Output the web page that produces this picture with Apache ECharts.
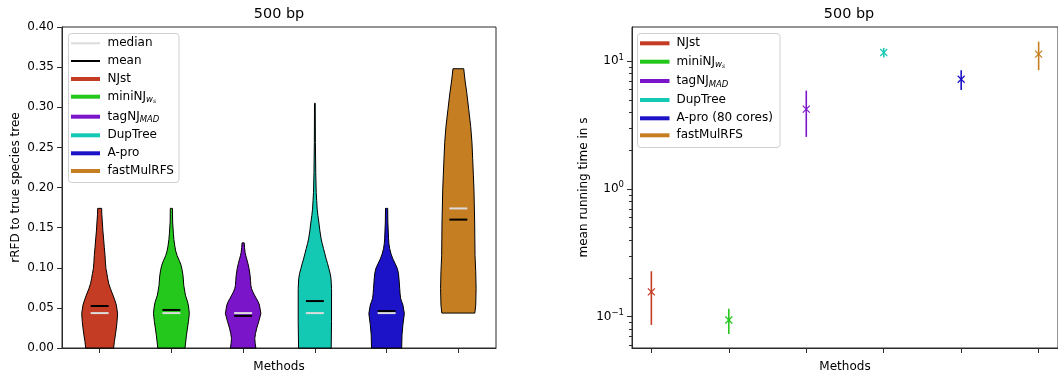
<!DOCTYPE html>
<html>
<head>
<meta charset="utf-8">
<script src="https://cdn.jsdelivr.net/npm/echarts@6/dist/echarts.min.js"></script>
<style>
  html, body { margin: 0; padding: 0; background: #fff; }
  #chart { width: 1058px; height: 378px; }
</style>
</head>
<body>
<div id="chart"></div>
<script>
// ---- data -------------------------------------------------------------
const methods = ['NJst', 'miniNJ_ws', 'tagNJ_MAD', 'DupTree', 'A-pro', 'fastMulRFS'];
const methodColors = ['#c43c23', '#24c71c', '#7a15c9', '#14c9b3', '#1c12c7', '#c67e22'];

// violin positions on the accuracy panel
const violinPositions = [1, 2, 3, 4, 5, 6];
const rrfdMean   = [0.0523, 0.0474, 0.0400, 0.0585, 0.0460, 0.1600];
const rrfdMedian = [0.0435, 0.0435, 0.0435, 0.0435, 0.0435, 0.1739];

// kernel density outlines: [rRFD value, relative half-width]
const njstDensity = [[0, 0.78], [0.008, 0.82], [0.0165, 0.88], [0.025, 0.93], [0.033, 0.97], [0.043, 1.0],
  [0.0535, 0.93], [0.06, 0.84], [0.066, 0.74], [0.074, 0.6], [0.08, 0.51], [0.0865, 0.45], [0.093, 0.4],
  [0.099, 0.35], [0.107, 0.32], [0.115, 0.3], [0.125, 0.26], [0.136, 0.22], [0.146, 0.18], [0.157, 0.15],
  [0.166, 0.12], [0.174, 0.11]];
const miniNJDensity = [[0, 0.76], [0.016, 0.84], [0.033, 0.95], [0.043, 1.0], [0.051, 0.96], [0.057, 0.91],
  [0.066, 0.78], [0.078, 0.69], [0.09, 0.65], [0.097, 0.6], [0.103, 0.54], [0.109, 0.44], [0.115, 0.32],
  [0.121, 0.24], [0.127, 0.19], [0.135, 0.14], [0.143, 0.11], [0.157, 0.07], [0.174, 0.06]];
const tagNJDensity = [[0, 0.71], [0.006, 0.67], [0.012, 0.65], [0.018, 0.69], [0.0247, 0.76], [0.033, 0.87],
  [0.043, 0.99], [0.0535, 0.91], [0.058, 0.83], [0.062, 0.73], [0.066, 0.63], [0.070, 0.54], [0.074, 0.47],
  [0.078, 0.43], [0.084, 0.41], [0.090, 0.39], [0.099, 0.33], [0.105, 0.27], [0.111, 0.2], [0.115, 0.15],
  [0.119, 0.11], [0.125, 0.08], [0.131, 0.06]];
const dupTreeDensity = [[0, 0.91], [0.033, 0.93], [0.074, 0.93], [0.0865, 0.9], [0.093, 0.85], [0.099, 0.78],
  [0.105, 0.71], [0.111, 0.63], [0.118, 0.55], [0.124, 0.48], [0.130, 0.41], [0.136, 0.35], [0.146, 0.28],
  [0.157, 0.22], [0.165, 0.17], [0.173, 0.13], [0.184, 0.1], [0.194, 0.075], [0.219, 0.05], [0.256, 0.03],
  [0.305, 0.02]];
const aproDensity = [[0, 0.84], [0.0165, 0.86], [0.029, 0.91], [0.043, 0.99], [0.0535, 0.91], [0.058, 0.84],
  [0.062, 0.78], [0.068, 0.75], [0.074, 0.73], [0.0865, 0.69], [0.093, 0.66], [0.099, 0.6], [0.105, 0.48],
  [0.111, 0.35], [0.117, 0.25], [0.124, 0.17], [0.130, 0.13], [0.136, 0.11], [0.157, 0.07], [0.174, 0.06]];
const fastMulRFSDensity = [[0.0435, 0.92], [0.0535, 0.97], [0.074, 0.99], [0.095, 0.97], [0.115, 0.93],
  [0.136, 0.92], [0.157, 0.91], [0.198, 0.87], [0.2145, 0.84], [0.236, 0.8], [0.256, 0.76], [0.276, 0.69],
  [0.297, 0.58], [0.318, 0.47], [0.334, 0.37], [0.348, 0.3]];
const violinDensities = [njstDensity, miniNJDensity, tagNJDensity, dupTreeDensity, aproDensity, fastMulRFSDensity];

// running time panel
const timePositions = [0, 1, 2, 3, 4, 5];
const timeMean = [0.156, 0.094, 4.21, 11.68, 7.20, 11.33];
const timeErr  = [0.070, 0.021, 1.66, 1.00, 1.27, 2.85];
const timeMajorTicks = [0.1, 1, 10];
const timeMinorTicks = [0.06, 0.07, 0.08, 0.09, 0.2, 0.3, 0.4, 0.5, 0.6, 0.7, 0.8, 0.9,
  2, 3, 4, 5, 6, 7, 8, 9];

// ---- styling ------------------------------------------------------------
const FONT = 'DejaVu Sans';
const AXIS_COLOR = '#2b2b2b';
const VIOLIN_HALF = 0.25;   // half of violin width in axis units
const STAT_HALF = 0.125;    // half length of the mean / median bars
const TIME_X_MIN = -0.25, TIME_X_MAX = 5.25;
const TIME_Y_MIN = 0.0567, TIME_Y_MAX = 18.48;

const chart = echarts.init(document.getElementById('chart'), null, { renderer: 'canvas' });

const baseAxis = {
  axisLine: { show: true, onZero: false, lineStyle: { color: AXIS_COLOR, width: 1 } },
  splitLine: { show: false },
  nameTextStyle: { fontFamily: FONT, fontSize: 12, color: '#000' }
};

const violinSeries = methods.map((m, i) => ({
  type: 'custom',
  name: m,
  xAxisIndex: 0,
  yAxisIndex: 0,
  z: 2,
  data: [[violinPositions[i], 0]],
  renderItem: (params, api) => {
    const cx = api.value(0);
    const prof = violinDensities[i];
    const pts = prof.map(([y, w]) => api.coord([cx + w * VIOLIN_HALF, y]));
    for (let k = prof.length - 1; k >= 0; k--) {
      pts.push(api.coord([cx - prof[k][1] * VIOLIN_HALF, prof[k][0]]));
    }
    return {
      type: 'polygon',
      shape: { points: pts },
      style: { fill: methodColors[i], stroke: '#000', lineWidth: 1 }
    };
  }
}));

function statSeries(name, values, color, z) {
  return {
    type: 'custom',
    name,
    xAxisIndex: 0,
    yAxisIndex: 0,
    z,
    data: values.map((v, i) => [violinPositions[i], v]),
    renderItem: (params, api) => {
      const a = api.coord([api.value(0) - STAT_HALF, api.value(1)]);
      const b = api.coord([api.value(0) + STAT_HALF, api.value(1)]);
      return {
        type: 'line',
        shape: { x1: a[0], y1: a[1], x2: b[0], y2: b[1] },
        style: { stroke: color, lineWidth: 2 }
      };
    }
  };
}

const timeSeries = {
  type: 'custom',
  name: 'running time',
  xAxisIndex: 1,
  yAxisIndex: 1,
  z: 3,
  data: timeMean.map((v, i) => [timePositions[i], v, timeErr[i]]),
  renderItem: (params, api) => {
    const x = api.value(0), m = api.value(1), e = api.value(2);
    const top = api.coord([x, m + e]);
    const bot = api.coord([x, m - e]);
    const c = api.coord([x, m]);
    const col = methodColors[params.dataIndex];
    const s = 3.5;
    return {
      type: 'group',
      children: [
        { type: 'line', shape: { x1: top[0], y1: top[1], x2: bot[0], y2: bot[1] }, style: { stroke: col, lineWidth: 1.6 } },
        { type: 'line', shape: { x1: c[0] - s, y1: c[1] - s, x2: c[0] + s, y2: c[1] + s }, style: { stroke: col, lineWidth: 1.2 } },
        { type: 'line', shape: { x1: c[0] - s, y1: c[1] + s, x2: c[0] + s, y2: c[1] - s }, style: { stroke: col, lineWidth: 1.2 } }
      ]
    };
  }
};

// minor ticks of the log axis, placed through the axis scale
const minorTickSeries = {
  type: 'custom',
  name: 'minor ticks',
  xAxisIndex: 1,
  yAxisIndex: 1,
  z: 1,
  clip: false,
  silent: true,
  data: timeMinorTicks.map(v => [TIME_X_MIN, v]),
  renderItem: (params, api) => {
    const p = api.coord([api.value(0), api.value(1)]);
    const y = Math.round(p[1]) + 0.5;
    return {
      type: 'line',
      shape: { x1: p[0] - 3, y1: y, x2: p[0], y2: y },
      style: { stroke: AXIS_COLOR, lineWidth: 1 }
    };
  }
};

// ---- legends and titles -------------------------------------------------
const legendRich = {
  n: { fontFamily: FONT, fontSize: 12, lineHeight: 16, color: '#000' },
  sub: { fontFamily: FONT, fontSize: 8.5, fontStyle: 'italic', lineHeight: 9, verticalAlign: 'bottom', color: '#000' },
  ss: { fontFamily: FONT, fontSize: 6, fontStyle: 'italic', lineHeight: 6, verticalAlign: 'bottom', color: '#000' }
};
const legendLabels = {
  'median': '{n|median}',
  'mean': '{n|mean}',
  'NJst': '{n|NJst}',
  'miniNJ_ws': '{n|miniNJ}{sub|w}{ss|s}',
  'tagNJ_MAD': '{n|tagNJ}{sub|MAD}',
  'DupTree': '{n|DupTree}',
  'A-pro': '{n|A-pro}',
  'A-pro (80 cores)': '{n|A-pro (80 cores)}',
  'fastMulRFS': '{n|fastMulRFS}'
};

function legendBox(box, handleX0, handleX1, textX, rows) {
  const children = [{
    type: 'rect',
    shape: { x: box[0], y: box[1], width: box[2], height: box[3], r: 3 },
    style: { fill: 'rgba(255,255,255,0.8)', stroke: '#d0d0d0', lineWidth: 1 }
  }];
  rows.forEach(r => {
    children.push({
      type: 'line',
      shape: { x1: handleX0, y1: r.y, x2: handleX1, y2: r.y },
      style: { stroke: r.color, lineWidth: r.width }
    });
    children.push({
      type: 'text',
      x: textX, y: r.y,
      style: { text: legendLabels[r.key], rich: legendRich, align: 'left', verticalAlign: 'middle' }
    });
  });
  return { type: 'group', z: 10, children };
}

const leftRowsY = [43.3, 61, 79, 96.7, 116.7, 135.3, 153.3, 171];
const leftLegend = legendBox([68.5, 33.5, 110.5, 149], 71, 100, 107.5, [
  { key: 'median', color: '#dcdcdc', width: 2, y: leftRowsY[0] },
  { key: 'mean', color: '#000', width: 2, y: leftRowsY[1] },
  ...methods.map((m, i) => ({ key: m, color: methodColors[i], width: 4, y: leftRowsY[i + 2] }))
]);

const rightRowsY = [43.3, 61.7, 81, 100, 118.3, 135.3];
const timeLegendKeys = ['NJst', 'miniNJ_ws', 'tagNJ_MAD', 'DupTree', 'A-pro (80 cores)', 'fastMulRFS'];
const rightLegend = legendBox([637.5, 33.5, 142.5, 114], 640, 669.5, 676.5,
  timeLegendKeys.map((k, i) => ({ key: k, color: methodColors[i], width: 4, y: rightRowsY[i] })));

const titles = [279, 849].map(cx => ({
  type: 'text', x: cx, y: 7,
  style: { text: '500 bp', fontFamily: FONT, fontSize: 14.4, fill: '#000', align: 'center', verticalAlign: 'top' }
}));

const option = {
  animation: false,
  backgroundColor: '#fff',
  grid: [
    { left: 62, top: 27, width: 434, height: 323, show: true, borderColor: AXIS_COLOR, borderWidth: 1, containLabel: false },
    { left: 632, top: 27, width: 434, height: 323, show: true, borderColor: AXIS_COLOR, borderWidth: 1, containLabel: false }
  ],
  xAxis: [
    {
      ...baseAxis, type: 'value', gridIndex: 0, min: 0.475, max: 6.525,
      name: 'Methods', nameLocation: 'middle', nameGap: 13,
      axisTick: { show: true, length: 5, lineStyle: { color: AXIS_COLOR }, customValues: violinPositions },
      axisLabel: { show: false }
    },
    {
      ...baseAxis, type: 'value', gridIndex: 1, min: TIME_X_MIN, max: TIME_X_MAX,
      name: 'Methods', nameLocation: 'middle', nameGap: 13,
      axisTick: { show: true, length: 5, lineStyle: { color: AXIS_COLOR }, customValues: timePositions },
      axisLabel: { show: false }
    }
  ],
  yAxis: [
    {
      ...baseAxis, type: 'value', gridIndex: 0, min: 0, max: 0.4, interval: 0.05,
      name: 'rRFD to true species tree', nameLocation: 'middle', nameGap: 40,
      axisTick: { show: true, length: 5, lineStyle: { color: AXIS_COLOR } },
      axisLabel: { margin: 8, fontFamily: FONT, fontSize: 12, color: '#000', formatter: v => v.toFixed(2) }
    },
    {
      ...baseAxis, type: 'log', logBase: 10, gridIndex: 1, min: TIME_Y_MIN, max: TIME_Y_MAX,
      name: 'mean running time in s', nameLocation: 'middle', nameGap: 42,
      axisTick: { show: true, length: 5, lineStyle: { color: AXIS_COLOR }, customValues: timeMajorTicks },
      axisLabel: {
        margin: 8, color: '#000', customValues: timeMajorTicks,
        formatter: v => {
          const e = Math.round(Math.log10(v));
          return '{b|10}{s|' + (e < 0 ? '\u2212' + (-e) : e) + '}';
        },
        rich: {
          b: { fontFamily: FONT, fontSize: 12, lineHeight: 16, color: '#000' },
          s: { fontFamily: FONT, fontSize: 8.5, lineHeight: 9, verticalAlign: 'top', color: '#000' }
        }
      }
    }
  ],
  series: [
    ...violinSeries,
    statSeries('mean', rrfdMean, '#000', 4),
    statSeries('median', rrfdMedian, '#dcdcdc', 5),
    timeSeries,
    minorTickSeries
  ],
  graphic: [...titles, leftLegend, rightLegend]
};

chart.setOption(option);
</script>
</body>
</html>
